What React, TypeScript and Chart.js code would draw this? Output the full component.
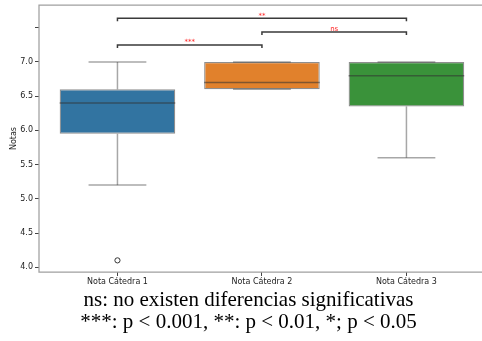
import React, { useEffect, useRef } from "react";
import { Chart, registerables } from "chart.js";

Chart.register(...registerables);

const categories = ["Nota Cátedra 1", "Nota Cátedra 2", "Nota Cátedra 3"];
const q1 = [5.95, 6.6, 6.35];
const medians = [6.4, 6.7, 6.8];
const q3 = [6.6, 7.0, 7.0];
const whiskerLow = [5.2, 6.6, 5.6];
const whiskerHigh = [7.0, 7.0, 7.0];
const outlierCategory = [0];
const outlierValues = [4.1];
const boxColors = ["#3274a1", "#e1812c", "#3a923a"];
const yTickValues = [4.0, 4.5, 5.0, 5.5, 6.0, 6.5, 7.0, 7.5];
const yTickLabels = ["4.0", "4.5", "5.0", "5.5", "6.0", "6.5", "7.0", ""];
const compFrom = [0, 1, 0];
const compTo = [1, 2, 2];
const compLabels = ["***", "ns", "**"];
const compLevels = [7.25, 7.44, 7.64];
const yTitle = "Notas";
const notes = [
  "ns: no existen diferencias significativas",
  "***: p < 0.001, **: p < 0.01, *; p < 0.05",
];

const FONT = "'DejaVu Sans', sans-serif";

const boxPlugin = {
  id: "boxExtras",
  afterDatasetsDraw(chart: any) {
    const { ctx, scales } = chart;
    const xs = scales.x;
    const ys = scales.y;
    const unit = xs.getPixelForValue(1) - xs.getPixelForValue(0);
    const capHalf = unit * 0.2;
    const boxHalf = unit * 0.4;
    ctx.save();
    categories.forEach((_, i) => {
      const cx = xs.getPixelForValue(i);
      ctx.strokeStyle = "rgba(60,60,60,0.45)";
      ctx.lineWidth = 1.5;
      const segs: [number, number][] = [
        [q3[i], whiskerHigh[i]],
        [q1[i], whiskerLow[i]],
      ];
      segs.forEach(([a, b]) => {
        if (a !== b) {
          ctx.beginPath();
          ctx.moveTo(cx, ys.getPixelForValue(a));
          ctx.lineTo(cx, ys.getPixelForValue(b));
          ctx.stroke();
        }
      });
      [whiskerHigh[i], whiskerLow[i]].forEach((v) => {
        const py = ys.getPixelForValue(v);
        ctx.beginPath();
        ctx.moveTo(cx - capHalf, py);
        ctx.lineTo(cx + capHalf, py);
        ctx.stroke();
      });
      const my = ys.getPixelForValue(medians[i]);
      ctx.strokeStyle = "rgba(50,50,50,0.55)";
      ctx.beginPath();
      ctx.moveTo(cx - boxHalf, my);
      ctx.lineTo(cx + boxHalf, my);
      ctx.stroke();
    });
    const tip = 0.045;
    compLevels.forEach((lv, k) => {
      const x1 = xs.getPixelForValue(compFrom[k]);
      const x2 = xs.getPixelForValue(compTo[k]);
      const yTop = ys.getPixelForValue(lv);
      const yBot = ys.getPixelForValue(lv - tip);
      ctx.strokeStyle = "#3a3a3a";
      ctx.lineWidth = 1.5;
      ctx.beginPath();
      ctx.moveTo(x1, yBot);
      ctx.lineTo(x1, yTop);
      ctx.lineTo(x2, yTop);
      ctx.lineTo(x2, yBot);
      ctx.stroke();
      ctx.fillStyle = "#ff2020";
      ctx.font = `7px ${FONT}`;
      ctx.textAlign = "center";
      ctx.textBaseline = "bottom";
      ctx.fillText(compLabels[k], (x1 + x2) / 2, yTop + 1);
    });
    ctx.restore();
  },
  afterDraw(chart: any) {
    const { ctx, chartArea } = chart;
    ctx.save();
    ctx.strokeStyle = "#a0a0a0";
    ctx.lineWidth = 1.25;
    ctx.beginPath();
    ctx.moveTo(chart.width, chartArea.top);
    ctx.lineTo(chartArea.left, chartArea.top);
    ctx.lineTo(chartArea.left, chartArea.bottom);
    ctx.lineTo(chart.width, chartArea.bottom);
    ctx.stroke();
    ctx.fillStyle = "#222";
    ctx.font = `8px ${FONT}`;
    ctx.translate(14, (chartArea.top + chartArea.bottom) / 2);
    ctx.rotate(-Math.PI / 2);
    ctx.textAlign = "center";
    ctx.textBaseline = "middle";
    ctx.fillText(yTitle, 0, 0);
    ctx.restore();
  },
};

export default function App() {
  const ref = useRef<HTMLCanvasElement | null>(null);
  useEffect(() => {
    document.body.style.margin = "0";
    if (!ref.current) return;
    const chart = new Chart(ref.current, {
      type: "bar",
      data: {
        datasets: [
          {
            type: "bar",
            data: categories.map((_, i) => ({ x: i, y: [q1[i], q3[i]] })) as any,
            backgroundColor: boxColors,
            borderColor: "rgba(50,50,50,0.55)",
            borderWidth: 1.25,
            borderSkipped: false,
            barPercentage: 0.8,
            categoryPercentage: 1,
          } as any,
          {
            type: "scatter",
            data: outlierValues.map((v, i) => ({ x: outlierCategory[i], y: v })),
            pointStyle: "circle",
            pointRadius: 2.6,
            borderColor: "#333",
            borderWidth: 1,
            backgroundColor: "rgba(0,0,0,0)",
          } as any,
        ],
      },
      options: {
        animation: false,
        responsive: true,
        maintainAspectRatio: false,
        layout: { autoPadding: false, padding: { top: 5, right: 0, left: 0, bottom: 0 } },
        plugins: { legend: { display: false }, tooltip: { enabled: false } },
        scales: {
          x: {
            type: "linear",
            offset: false,
            min: -0.543,
            max: 2.523,
            afterBuildTicks: (s: any) => {
              s.ticks = categories.map((_, i) => ({ value: i }));
            },
            afterFit: (s: any) => {
              s.height = 18;
              s.paddingLeft = 0;
              s.paddingRight = 0;
            },
            grid: {
              display: true,
              drawOnChartArea: false,
              drawTicks: true,
              tickLength: 4,
              color: "#444",
              offset: false,
            },
            border: { display: false },
            ticks: {
              padding: 1,
              color: "#222",
              font: { family: FONT, size: 8 },
              maxRotation: 0,
              autoSkip: false,
              callback: (v: any) => categories[Math.round(Number(v))] ?? "",
            },
          },
          y: {
            type: "linear",
            min: 3.93,
            max: 7.833,
            afterBuildTicks: (s: any) => {
              s.ticks = yTickValues.map((v) => ({ value: v }));
            },
            afterFit: (s: any) => {
              s.width = 39;
              s.paddingTop = 0;
              s.paddingBottom = 0;
            },
            grid: {
              display: true,
              drawOnChartArea: false,
              drawTicks: true,
              tickLength: 4,
              color: "#444",
            },
            border: { display: false },
            ticks: {
              padding: 2,
              color: "#222",
              font: { family: FONT, size: 8 },
              autoSkip: false,
              callback: (v: any) => {
                const idx = yTickValues.findIndex((t) => Math.abs(t - Number(v)) < 1e-6);
                return idx >= 0 ? yTickLabels[idx] : "";
              },
            },
          },
        },
      } as any,
      plugins: [boxPlugin],
    });
    return () => chart.destroy();
  }, []);

  return (
    <div style={{ position: "absolute", left: 0, top: 0, width: 482, height: 341, background: "#fff", overflow: "hidden" }}>
      <div style={{ position: "absolute", left: 0, top: 0, width: 482, height: 290 }}>
        <canvas ref={ref} />
      </div>
      <div
        style={{
          position: "absolute",
          left: 0,
          top: 288,
          width: 497,
          textAlign: "center",
          fontFamily: "'Liberation Serif', 'Times New Roman', serif",
          fontSize: 21,
          lineHeight: "22px",
          color: "#000",
          whiteSpace: "nowrap",
        }}
      >
        {notes.map((n, i) => (
          <div key={i}>{n}</div>
        ))}
      </div>
    </div>
  );
}
